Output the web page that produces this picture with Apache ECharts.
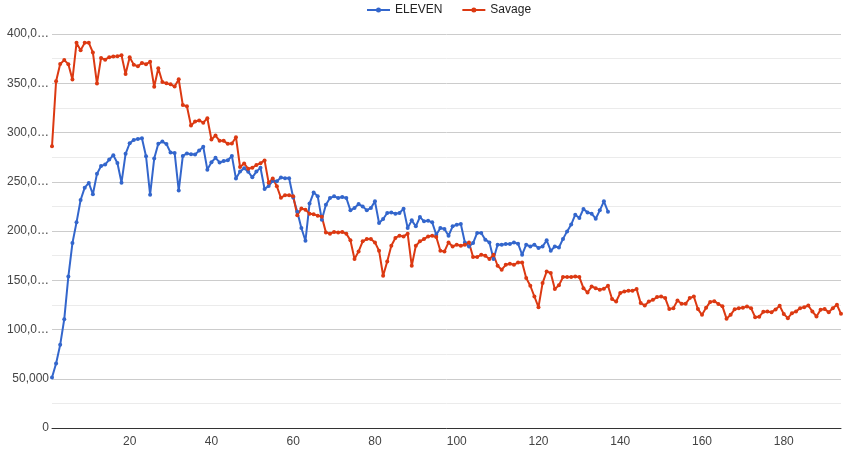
<!DOCTYPE html>
<html><head><meta charset="utf-8">
<script src="https://cdn.jsdelivr.net/npm/echarts@6/dist/echarts.min.js"></script>
<style>html,body{margin:0;padding:0;background:#fff}#c{width:850px;height:451px}</style>
</head><body><div id="c"></div>
<script>
const seriesNames = ['ELEVEN', 'Savage'];
const elevenValues = [
51200,65400,84400,110500,153800,187800,208800,231500,244000,248800,
237300,258000,266000,267400,272500,276900,269100,249100,278300,289100,
292500,293500,294200,275900,236900,273500,288500,290800,288300,279600,
279300,241000,276200,278700,277800,277600,281600,285500,262300,269800,
274300,269600,271000,271800,276200,253200,260300,263700,260200,254500,
260300,264200,242700,245800,250800,250600,254400,253600,253600,234000,
219600,203000,190100,227800,239000,235200,211500,226700,233500,235200,
233500,234500,233500,221000,223400,227400,225000,221000,223400,230100,
208100,212200,218300,218900,217600,218300,222700,203000,210800,204700,
214200,209800,210500,208800,196200,203000,202000,195200,204700,206400,
207100,188400,184300,187800,198000,198000,191200,188400,171500,186100,
186100,186800,186800,188400,187100,175900,186100,184300,186100,182700,
184300,190500,180000,184300,183300,192000,199600,206500,216600,213200,
222400,218900,217600,212500,221000,230100,219600
];
const savageValues = [
286000,352000,369500,373500,369400,353800,391000,383600,391000,391000,
381300,349700,375700,373900,376500,377200,377400,378400,359300,376500,
368900,367200,370600,369400,371800,346400,365200,351200,349900,348900,
346700,354000,327800,326700,307000,311200,312200,310000,314500,292900,
296900,291500,291500,288500,288800,295200,265000,268600,263100,264200,
266900,268900,271700,248900,253400,245400,233700,236400,236200,235300,
215900,222900,221700,217500,216900,215600,214400,198600,197300,199000,
198600,199000,197300,190500,171500,179300,189500,191800,191800,188400,
180000,154600,169100,185000,192900,195200,194500,197300,164700,185000,
189500,191800,194500,195200,193900,180000,179300,188400,184300,186100,
185000,186100,188400,173600,173600,175900,174900,171500,175900,164700,
160700,165700,166800,165700,168100,168100,152200,144400,133500,122700,
147100,158900,157300,141000,145000,153200,153200,153200,153900,153200,
142000,137600,143700,142000,140300,141300,144400,130900,128400,137000,
138600,139300,139300,141000,126800,124400,128400,130100,132900,133500,
131900,120700,121700,129500,126100,126100,131900,133500,120700,114900,
122000,128000,128800,126000,123500,111000,114900,120600,121700,122000,
123400,121700,112500,113000,118000,118300,117600,120400,124000,115800,
111500,116600,118300,121700,122700,124400,118300,113200,120000,120700,
117600,121700,125100,115900
];
const xTickLabels = [20, 40, 60, 80, 100, 120, 140, 160, 180];
const colors = ['#3366cc', '#dc3912'];

const toPoints = arr => arr.map((v, i) => [i + 1, v]);
const font = 'Arial, "Liberation Sans", sans-serif';
const legendIcon = 'path://M0,1.5L23,1.5L23,3.5L0,3.5Z M11.5,0A2.5,2.5 0 1,1 11.5,5A2.5,2.5 0 1,1 11.5,0Z';

const chart = echarts.init(document.getElementById('c'), null, {renderer: 'canvas'});
chart.setOption({
  animation: false,
  color: colors,
  legend: {
    data: seriesNames.map(n => ({name: n, icon: legendIcon})),
    top: 4,
    left: 367,
    padding: 0,
    itemWidth: 23,
    itemHeight: 5,
    itemGap: 20,
    textStyle: {fontSize: 12, color: '#222', fontFamily: font}
  },
  grid: {left: 52, right: 9, top: 34, bottom: 23},
  xAxis: {
    type: 'value',
    min: 1,
    max: savageValues.length,
    splitLine: {show: false},
    axisTick: {show: false},
    axisLine: {show: true, onZero: false, lineStyle: {color: '#333', width: 1}},
    axisLabel: {
      customValues: xTickLabels,
      color: '#444', fontSize: 12, fontFamily: font, margin: 8
    }
  },
  yAxis: {
    type: 'value',
    min: 0,
    max: 400000,
    interval: 50000,
    axisLine: {show: false},
    axisTick: {show: false},
    splitLine: {lineStyle: {color: '#cccccc', width: 1}},
    minorTick: {show: false, splitNumber: 2},
    minorSplitLine: {show: true, lineStyle: {color: '#ebebeb', width: 1}},
    axisLabel: {
      color: '#444', fontSize: 12, fontFamily: font, margin: 3,
      formatter: v => {
        const s = v.toLocaleString('en-US');
        return s.length > 6 ? s.slice(0, 5) + '\u2026' : s;
      }
    }
  },
  series: [
    {name: seriesNames[0], type: 'line', data: toPoints(elevenValues),
     symbol: 'circle', symbolSize: 4, lineStyle: {width: 2}, itemStyle: {color: colors[0]}},
    {name: seriesNames[1], type: 'line', data: toPoints(savageValues),
     symbol: 'circle', symbolSize: 4, lineStyle: {width: 2}, itemStyle: {color: colors[1]}}
  ]
});
</script>
</body></html>
